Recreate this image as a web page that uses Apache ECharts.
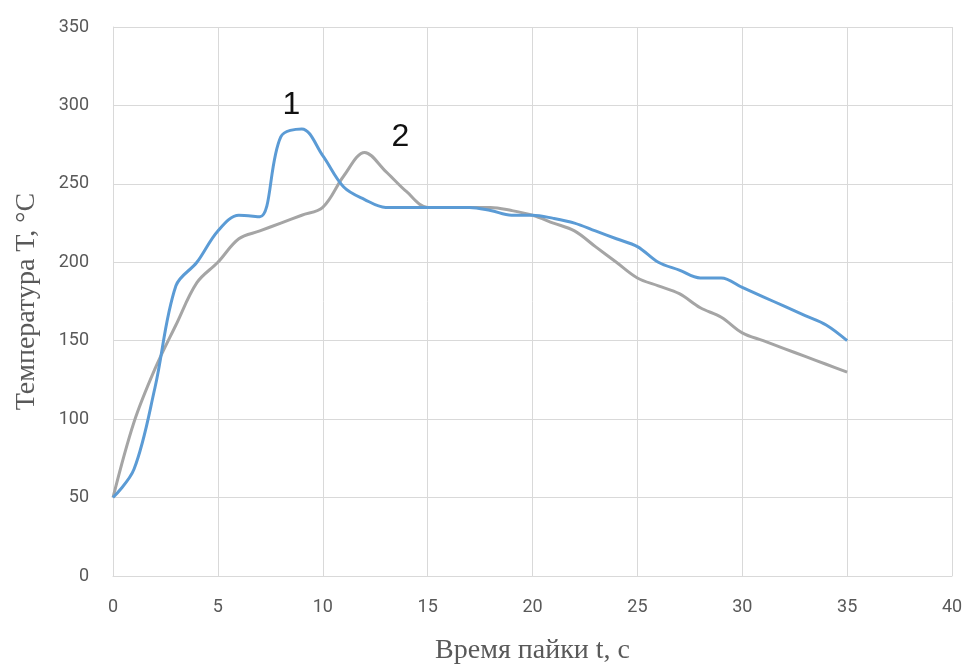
<!DOCTYPE html>
<html><head><meta charset="utf-8">
<script src="https://cdn.jsdelivr.net/npm/echarts@6/dist/echarts.min.js"></script>
<style>html,body{margin:0;padding:0;background:#fff}#c{width:969px;height:668px}</style>
</head><body><div id="c"></div>
<script>
const times = [0,1,2,3,4,5,6,7,8,9,10,11,12,13,14,15,16,17,18,19,20,21,22,23,24,25,26,27,28,29,30,31,32,33,34,35];
const series1 = [50,68,120,185,200,220,230,229,280,285,268,248,240,235,235,235,235,235,233,230,230,228,225,220,215,210,200,195,190,190,184,178,172,166,160,150];
const series2 = [50,98,132,160,187,200,215,220,225,230,235,255,270,258,245,235,235,235,235,233,230,225,220,210,200,190,185,180,171,165,155,150,145,140,135,130];
const xName = 'Время пайки t, с';
const yName = 'Температура T, °С';
const labels = [{text:'1', t:8.5, v:300},{text:'2', t:13.7, v:280}];

const chart = echarts.init(document.getElementById('c'));
const toPairs = a => a.map((v,i)=>[times[i], v]);
chart.setOption({
  animation:false,
  grid:{left:113,right:17,top:27,bottom:92,containLabel:false,outerBoundsMode:'none'},
  xAxis:{type:'value',min:0,max:40,interval:5,
    name:xName,nameLocation:'middle',nameGap:61,
    nameTextStyle:{fontFamily:'Liberation Serif',fontSize:28,color:'#595959'},
    axisLine:{show:true,lineStyle:{color:'#d9d9d9',width:1}},axisTick:{show:false},
    axisLabel:{fontFamily:'Roboto',fontSize:18,color:'#595959',margin:22},
    splitLine:{show:true,lineStyle:{color:'#d9d9d9',width:1}}},
  yAxis:{type:'value',min:0,max:350,interval:50,
    name:yName,nameLocation:'middle',nameGap:72,
    nameTextStyle:{fontFamily:'Liberation Serif',fontSize:28,color:'#595959'},
    axisLine:{show:true,lineStyle:{color:'#d9d9d9',width:1}},axisTick:{show:false},
    axisLabel:{fontFamily:'Roboto',fontSize:18,color:'#595959',margin:24},
    splitLine:{show:true,lineStyle:{color:'#d9d9d9',width:1}}},
  series:[
    {type:'line',data:toPairs(series1),smooth:0.35,showSymbol:false,
     lineStyle:{color:'#5b9bd5',width:3},z:3,
     markPoint:{symbol:'circle',symbolSize:0,
       label:{show:true,position:'inside',fontFamily:'Liberation Sans',fontSize:32,color:'#111'},
       data:labels.map(l=>({coord:[l.t,l.v],value:l.text,label:{formatter:l.text}}))}},
    {type:'line',data:toPairs(series2),smooth:0.35,showSymbol:false,
     lineStyle:{color:'#a5a5a5',width:3},z:2}
  ]
});
</script></body></html>
